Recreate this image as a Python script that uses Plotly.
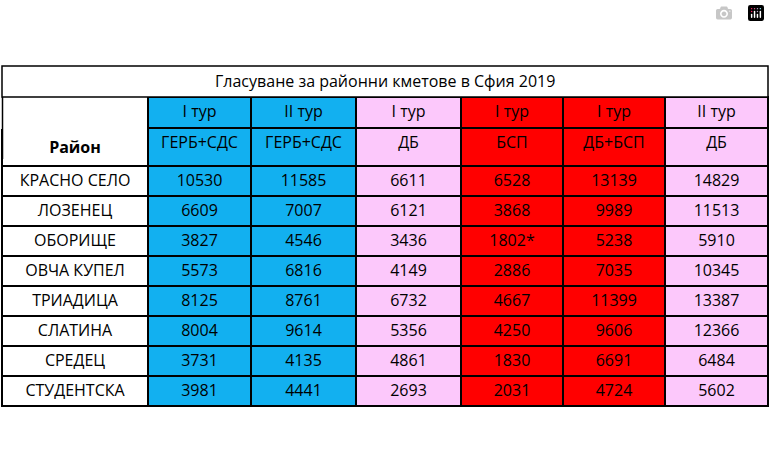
import plotly.graph_objects as go

title = "Гласуване за районни кметове в Сфия 2019"
districts = ["КРАСНО СЕЛО", "ЛОЗЕНЕЦ", "ОБОРИЩЕ", "ОВЧА КУПЕЛ", "ТРИАДИЦА", "СЛАТИНА", "СРЕДЕЦ", "СТУДЕНТСКА"]
rounds = ["I тур", "II тур", "I тур", "I тур", "I тур", "II тур"]
parties = ["ГЕРБ+СДС", "ГЕРБ+СДС", "ДБ", "БСП", "ДБ+БСП", "ДБ"]
gerb1 = ["10530", "6609", "3827", "5573", "8125", "8004", "3731", "3981"]
gerb2 = ["11585", "7007", "4546", "6816", "8761", "9614", "4135", "4441"]
db1 = ["6611", "6121", "3436", "4149", "6732", "5356", "4861", "2693"]
bsp1 = ["6528", "3868", "1802*", "2886", "4667", "4250", "1830", "2031"]
dbbsp1 = ["13139", "9989", "5238", "7035", "11399", "9606", "6691", "4724"]
db2 = ["14829", "11513", "5910", "10345", "13387", "12366", "6484", "5602"]

BLUE, PINK, RED = "#12b0f0", "#fcc8fb", "#ff0000"
col_colors = ["white", BLUE, BLUE, PINK, RED, RED, PINK]

cols = [["<b>Район</b>"] + districts]
for p, v in zip(parties, [gerb1, gerb2, db1, bsp1, dbbsp1, db2]):
    cols.append([p] + v)

W, H = 770, 462
x0, x1 = 2, 768
edges = [2, 148, 251, 356, 461, 563, 665, 768]
widths = [edges[i+1]-edges[i] for i in range(7)]
top_title, top_tbl, bottom = 66, 97, 400
FONT = dict(family="Open Sans", size=16, color="black")

fig = go.Figure(go.Table(
    columnwidth=widths,
    header=dict(values=[""] + rounds, fill_color=col_colors,
                line=dict(color=["white"] + ["black"] * 6, width=1.5),
                align="center", height=31, font=FONT),
    cells=dict(values=cols, fill_color=col_colors, line_color="black", line_width=1.5,
               align="center", height=30, font=FONT),
    domain=dict(x=[x0/W, x1/W], y=[0, 1-top_tbl/H]),
))
fig.add_shape(type="rect", xref="paper", yref="paper", x0=x0/W, x1=x1/W,
              y0=1-top_tbl/H, y1=1-top_title/H, line=dict(color="black", width=1.5), fillcolor="white")
fig.add_shape(type="line", xref="paper", yref="paper", x0=(x0+0.5)/W, x1=(x0+0.5)/W,
              y0=1-(top_tbl+62)/H, y1=1-top_tbl/H, line=dict(color="black", width=1.5))
fig.add_annotation(text=title, xref="paper", yref="paper", x=0.5, y=1-(top_title+top_tbl)/2/H,
                   yanchor="middle", showarrow=False, font=FONT)
fig.update_layout(width=W, height=H, margin=dict(l=0, r=0, t=0, b=0), paper_bgcolor="white")
fig.write_html("out.html", post_script="document.body.style.margin='0';document.body.style.overflow='hidden';")
